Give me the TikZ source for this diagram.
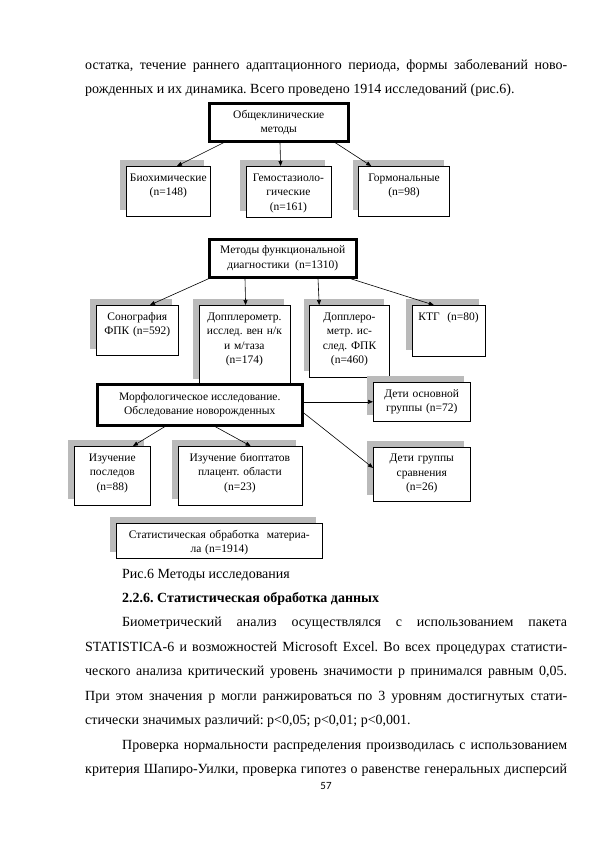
\documentclass[tikz,border=0pt]{standalone}
\usepackage{fontspec}
\setmainfont{Liberation Serif}
\newfontfamily\pagefont{Carlito}
\usetikzlibrary{arrows.meta,positioning,shadows}
\frenchspacing
\newcommand{\diagfont}{\fontsize{11.5}{14.5}\selectfont}
\newcommand{\bodyfont}{\fontsize{14}{17}\selectfont}
\newcommand{\just}[2]{\makebox[#1][s]{#2}}

\begin{document}
\begin{tikzpicture}[
  x=1pt, y=-1pt,
  box/.style={draw, fill=white, line width=0.6pt, align=center, font=\diagfont,
              anchor=north west, inner xsep=2pt, inner ysep=4pt, text height=11pt},
  shbox/.style={box, drop shadow={fill=black!27, opacity=1,
              shadow xshift=-6pt, shadow yshift=6pt}},
  head/.style={draw, line width=2.5pt, fill=white, align=center, font=\diagfont,
               anchor=north west, inner sep=0pt},
  arr/.style={-{Triangle[length=5pt, width=4pt]}, line width=0.6pt},
  txt/.style={anchor=base west, inner sep=0pt, font=\bodyfont},
]
\useasboundingbox (0,0) rectangle (594,841);

\node[txt] (ln1) at (85,69) {\just{482pt}{остатка, течение раннего адаптационного периода, формы заболеваний ново-}};
\node[txt] (ln2) at (85,93) {рожденных и их динамика. Всего проведено 1914 исследований (рис.6).};

\node[head, minimum width=139pt, minimum height=38pt] (obsh) at (208,102) {Общеклинические\\ методы};
\node[shbox, text width=80pt, text depth=31pt] (bio) at (126,166) {Биохимические\\ (n=148)};
\node[shbox, text width=81pt, text depth=32pt, below right=0pt and 35pt of bio.north east] (gemo) {Гемостазиоло-\\ гические\\ (n=161)};
\node[shbox, text width=87pt, text depth=31pt, below right=0pt and 27pt of gemo.north east] (gorm) {Гормональные\\ (n=98)};
\draw[arr] ([xshift=16pt]obsh.south west) -- ([xshift=51pt]bio.north west);
\draw[arr] ([xshift=72pt]obsh.south west) -- ([xshift=35pt]gemo.north west);
\draw[arr] ([xshift=127pt]obsh.south west) -- ([xshift=13pt]gorm.north west);

\node[head, minimum width=147pt, minimum height=38pt] (func) at (208,238) {Методы функциональной\\ диагностики~~(n=1310)};
\node[shbox, text width=78pt, text depth=31pt] (sono) at (96,305) {Сонография\\ ФПК (n=592)};
\node[shbox, text width=87pt, text depth=61pt, below right=0pt and 20pt of sono.north east] (dopv) {Допплерометр.\\ исслед. вен н/к\\ и м/таза\\ (n=174)};
\node[shbox, text width=76pt, text depth=53pt, below right=0pt and 19pt of dopv.north east] (dopf) {Допплеро-\\ метр. ис-\\ след. ФПК\\ (n=460)};
\node[shbox, text width=69pt, text depth=32pt, below right=0pt and 22pt of dopf.north east] (ktg) {КТГ~~(n=80)};
\draw[arr] ([xshift=1pt]func.south west) -- ([xshift=54pt]sono.north west);
\draw[arr] ([xshift=37pt]func.south west) -- ([xshift=47pt]dopv.north west);
\draw[arr] ([xshift=110pt]func.south west) -- ([xshift=10pt]dopf.north west);
\draw[arr] ([xshift=142pt]func.south west) -- ([xshift=22pt]ktg.north west);

\node[head, minimum width=205pt, minimum height=41pt] (morph) at (96,383) {Морфологическое исследование.\\ Обследование новорожденных};
\node[shbox, text width=93pt, text depth=20pt] (detio) at (373,382) {Дети основной\\ группы (n=72)};
\node[shbox, text width=93pt, text depth=35pt, below=25pt of detio.south west, anchor=north west] (detis) {Дети группы\\ сравнения\\ (n=26)};
\node[shbox, text width=72pt, text depth=40pt] (posl) at (74,446) {Изучение\\ последов\\ (n=88)};
\node[shbox, text width=120pt, text depth=40pt, below right=0pt and 27pt of posl.north east] (biop) {Изучение биоптатов\\ плацент. области\\ (n=23)};
\draw[arr] (morph.east |- detio.west) -- (detio.west);
\draw[arr] ([yshift=-8pt]morph.east) -- ([yshift=6pt]detis.west);
\draw[arr] ([xshift=69pt]morph.south west) -- ([xshift=59pt]posl.north west);
\draw[arr] ([xshift=119pt]morph.south west) -- ([xshift=73pt]biop.north west);

\node[shbox, text width=202pt, text depth=16pt] (stat) at (116,523) {Статистическая обработка~~материа-\\ ла (n=1914)};

\node[txt] (cap) at (122,578) {Рис.6 Методы исследования};
\node[txt, font=\bodyfont\bfseries] (title) at (122,602) {2.2.6. Статистическая обработка данных};
\node[txt] (ln3) at (122,626.5) {\just{445pt}{Биометрический анализ осуществлялся с использованием пакета}};
\node[txt] (ln4) at (85,651) {\just{482pt}{STATISTICA-6 и возможностей Microsoft Excel. Во всех процедурах статисти-}};
\node[txt] (ln5) at (85,675.5) {\just{482pt}{ческого анализа критический уровень значимости р принимался равным 0,05.}};
\node[txt] (ln6) at (85,700) {\just{482pt}{При этом значения р могли ранжироваться по 3 уровням достигнутых стати-}};
\node[txt] (ln7) at (85,724.5) {стически значимых различий: p<0,05; p<0,01; p<0,001.};
\node[txt] (ln8) at (122,749) {\just{445pt}{Проверка нормальности распределения производилась с использованием}};
\node[txt] (ln9) at (85,773.5) {\just{482pt}{критерия Шапиро-Уилки, проверка гипотез о равенстве генеральных дисперсий}};
\node[anchor=base, inner sep=0pt, font=\pagefont\fontsize{11}{13}\selectfont] (pnum) at (326,789) {57};
\end{tikzpicture}
\end{document}
